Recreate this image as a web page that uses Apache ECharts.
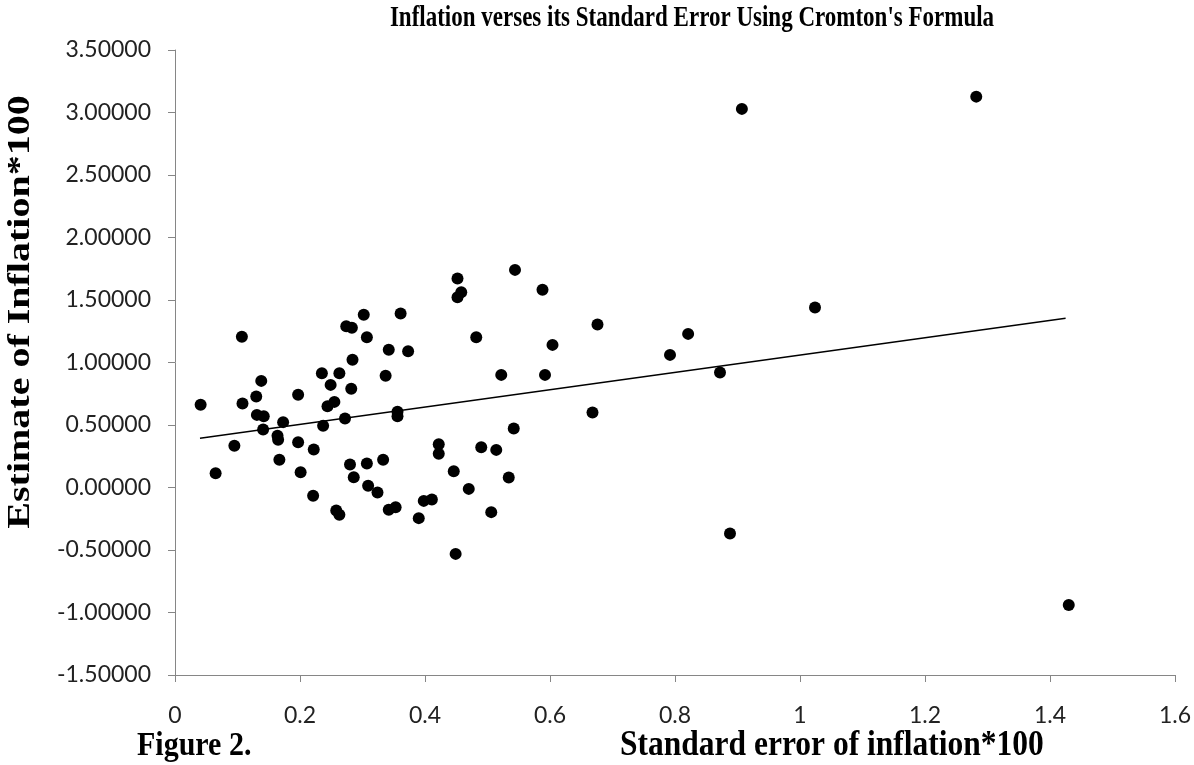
<!DOCTYPE html>
<html>
<head>
<meta charset="utf-8">
<title>Inflation verses its Standard Error</title>
<script src="https://cdn.jsdelivr.net/npm/echarts@6.0.0/dist/echarts.min.js"></script>
<style>
    html, body { margin: 0; padding: 0; background: #fff; }
    #main { width: 1194px; height: 765px; }
</style>
</head>
<body>
<div id="main"></div>
<script>
    // standard error of inflation*100 (x) and estimate of inflation*100 (y)
    var stdErr = [
        0.041, 0.065, 0.095, 0.107, 0.108, 0.130, 0.138, 0.131, 0.142, 0.141,
        0.173, 0.164, 0.165, 0.167, 0.197, 0.197, 0.201, 0.222, 0.221, 0.235,
        0.249, 0.263, 0.244, 0.255, 0.237, 0.272, 0.258, 0.263, 0.274, 0.283,
        0.302, 0.307, 0.284, 0.282, 0.280, 0.286, 0.307, 0.309, 0.324, 0.333,
        0.342, 0.337, 0.361, 0.373, 0.356, 0.356, 0.342, 0.353, 0.390,
        0.452, 0.458, 0.452, 0.544, 0.588, 0.482, 0.604, 0.676, 0.522, 0.592,
        0.668, 0.542, 0.422, 0.422, 0.490, 0.514, 0.446, 0.470, 0.534, 0.398,
        0.411, 0.449, 0.506,
        0.792, 0.821, 0.872, 0.888, 0.907, 1.024, 1.282, 1.430
    ];
    var estimate = [
        0.662, 0.114, 0.334, 1.206, 0.672, 0.728, 0.853, 0.581, 0.570, 0.464,
        0.523, 0.414, 0.382, 0.222, 0.742, 0.362, 0.122, 0.304, -0.066, 0.914,
        0.821, 0.914, 0.650, 0.685, 0.494, 0.552, -0.184, -0.218, 1.290, 1.278,
        1.382, 1.202, 1.022, 0.790, 0.184, 0.082, 0.192, 0.014, -0.040, 0.222,
        1.102, 0.894, 1.392, 1.090, 0.606, 0.570, -0.178, -0.158, -0.245,
        1.672, 1.562, 1.522, 1.741, 1.582, 1.202, 1.141, 1.304, 0.901, 0.901,
        0.600, 0.472, 0.346, 0.270, 0.322, 0.301, 0.130, -0.011, 0.080, -0.107,
        -0.096, -0.531, -0.197,
        1.061, 1.229, 0.920, -0.368, 3.029, 1.440, 3.127, -0.940
    ];
    // linear trendline end points
    var trendX = [0.040, 1.425];
    var trendY = [0.394, 1.354];

    var xTicks = { min: 0, max: 1.6, step: 0.2 };
    var yTicks = { min: -1.5, max: 3.5, step: 0.5 };

    var points = stdErr.map(function (x, i) { return [x, estimate[i]]; });
    var trend = trendX.map(function (x, i) { return [x, trendY[i]]; });

    var axisGray = '#868686';
    var serif = '"Liberation Serif", "DejaVu Serif", serif';

    var myChart = echarts.init(document.getElementById('main'));
    var options = {
        backgroundColor: '#fff',
        animation: false,
        grid: {
            left: 175,
            right: 19,
            top: 50,
            bottom: 90,
            containLabel: false,
            outerBoundsMode: 'none'
        },
        xAxis: {
            type: 'value',
            min: xTicks.min,
            max: xTicks.max,
            interval: xTicks.step,
            axisLine: { onZero: false, lineStyle: { color: axisGray, width: 1 } },
            axisTick: { show: true, length: 7, lineStyle: { color: axisGray } },
            splitLine: { show: false },
            axisLabel: {
                margin: 29,
                color: '#222',
                fontFamily: 'Lato',
                fontSize: 23
            }
        },
        yAxis: {
            type: 'value',
            min: yTicks.min,
            max: yTicks.max,
            interval: yTicks.step,
            axisLine: { show: true, onZero: false, lineStyle: { color: axisGray, width: 1 } },
            axisTick: { show: true, length: 7, lineStyle: { color: axisGray } },
            splitLine: { show: false },
            axisLabel: {
                margin: 24,
                color: '#222',
                fontFamily: 'Lato',
                fontSize: 23,
                formatter: function (v) { return v.toFixed(5); }
            }
        },
        graphic: [
            {
                type: 'text', x: 692, y: 19, scaleY: 1.25,
                style: {
                    text: "Inflation verses its Standard Error Using Cromton's Formula",
                    font: 'bold 23px ' + serif, fill: '#000',
                    align: 'center', verticalAlign: 'middle'
                }
            },
            {
                type: 'text', x: 21, y: 312, rotation: Math.PI / 2, scaleX: 1.25,
                style: {
                    text: 'Estimate of Inflation*100',
                    font: 'bold 32px ' + serif, fill: '#000',
                    align: 'center', verticalAlign: 'middle'
                }
            },
            {
                type: 'text', x: 137, y: 746, scaleY: 1.15,
                style: {
                    text: 'Figure 2.',
                    font: 'bold 30px ' + serif, fill: '#000',
                    align: 'left', verticalAlign: 'middle'
                }
            },
            {
                type: 'text', x: 620, y: 746, scaleY: 1.12,
                style: {
                    text: 'Standard error of inflation*100',
                    font: 'bold 31.5px ' + serif, fill: '#000',
                    align: 'left', verticalAlign: 'middle'
                }
            }
        ],
        series: [
            {
                type: 'scatter',
                data: points,
                symbol: 'circle',
                symbolSize: 12,
                itemStyle: { color: '#000', opacity: 1 },
                silent: true
            },
            {
                type: 'line',
                data: trend,
                symbol: 'none',
                lineStyle: { color: '#000', width: 1.3 },
                silent: true
            }
        ]
    };
    myChart.setOption(options);
</script>
</body>
</html>
